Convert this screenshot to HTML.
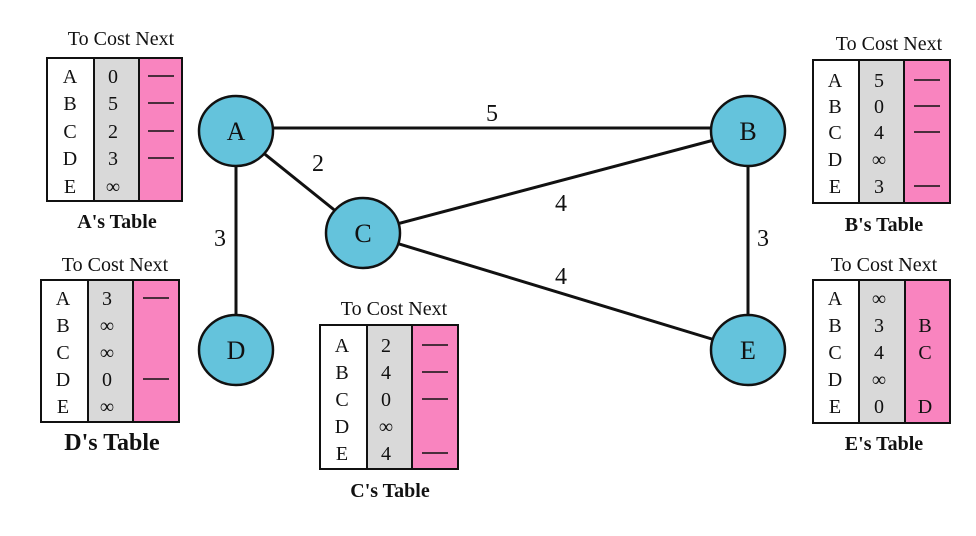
<!DOCTYPE html>
<html><head><meta charset="utf-8"><style>body{margin:0;background:#fff}svg{display:block}text{font-family:"Liberation Serif",serif;fill:#111}</style></head>
<body>
<svg width="976" height="536" viewBox="0 0 976 536" xmlns="http://www.w3.org/2000/svg">
<g stroke="#111" stroke-width="3">
<line x1="236" y1="128" x2="748" y2="128"/>
<line x1="236" y1="131" x2="363" y2="233"/>
<line x1="236" y1="131" x2="236" y2="350"/>
<line x1="363" y1="233" x2="748" y2="131"/>
<line x1="363" y1="233" x2="748" y2="350"/>
<line x1="748" y1="131" x2="748" y2="350"/>
</g>
<g fill="#64c3dc" stroke="#111" stroke-width="2.5">
<ellipse cx="236" cy="131" rx="37" ry="35"/>
<ellipse cx="748" cy="131" rx="37" ry="35"/>
<ellipse cx="363" cy="233" rx="37" ry="35"/>
<ellipse cx="236" cy="350" rx="37" ry="35"/>
<ellipse cx="748" cy="350" rx="37" ry="35"/>
</g>
<g font-size="26" text-anchor="middle">
<text x="236" y="140">A</text><text x="748" y="140">B</text><text x="363" y="242">C</text><text x="236" y="359">D</text><text x="748" y="359">E</text>
<text x="492" y="121" font-size="24">5</text><text x="318" y="171" font-size="24">2</text><text x="220" y="246" font-size="24">3</text>
<text x="561" y="211" font-size="24">4</text><text x="561" y="284" font-size="24">4</text><text x="763" y="246" font-size="24">3</text>
</g>
<g id="tables" font-size="20">
<!-- A -->
<rect x="47" y="58" width="47" height="143" fill="#fff" stroke="#111" stroke-width="2"/>
<rect x="94" y="58" width="45" height="143" fill="#d9d9d9" stroke="#111" stroke-width="2"/>
<rect x="139" y="58" width="43" height="143" fill="#f984bf" stroke="#111" stroke-width="2"/>
<g text-anchor="middle"><text x="70" y="83">A</text><text x="70" y="110">B</text><text x="70" y="138">C</text><text x="70" y="165">D</text><text x="70" y="193">E</text>
<text x="113" y="83">0</text><text x="113" y="110">5</text><text x="113" y="138">2</text><text x="113" y="165">3</text><text x="113" y="193">∞</text>
<text x="121" y="45">To  Cost Next</text><text x="117" y="228" font-weight="bold">A's Table</text></g>
<g stroke="#111" stroke-width="1.5"><line x1="148" y1="76" x2="174" y2="76"/><line x1="148" y1="103" x2="174" y2="103"/><line x1="148" y1="131" x2="174" y2="131"/><line x1="148" y1="158" x2="174" y2="158"/></g>
<!-- B -->
<rect x="813" y="60" width="46" height="143" fill="#fff" stroke="#111" stroke-width="2"/>
<rect x="859" y="60" width="45" height="143" fill="#d9d9d9" stroke="#111" stroke-width="2"/>
<rect x="904" y="60" width="46" height="143" fill="#f984bf" stroke="#111" stroke-width="2"/>
<g text-anchor="middle"><text x="835" y="87">A</text><text x="835" y="113">B</text><text x="835" y="139">C</text><text x="835" y="166">D</text><text x="835" y="193">E</text>
<text x="879" y="87">5</text><text x="879" y="113">0</text><text x="879" y="139">4</text><text x="879" y="166">∞</text><text x="879" y="193">3</text>
<text x="889" y="50">To  Cost Next</text><text x="884" y="231" font-weight="bold">B's Table</text></g>
<g stroke="#111" stroke-width="1.5"><line x1="914" y1="80" x2="940" y2="80"/><line x1="914" y1="106" x2="940" y2="106"/><line x1="914" y1="132" x2="940" y2="132"/><line x1="914" y1="186" x2="940" y2="186"/></g>
<!-- D -->
<rect x="41" y="280" width="47" height="142" fill="#fff" stroke="#111" stroke-width="2"/>
<rect x="88" y="280" width="45" height="142" fill="#d9d9d9" stroke="#111" stroke-width="2"/>
<rect x="133" y="280" width="46" height="142" fill="#f984bf" stroke="#111" stroke-width="2"/>
<g text-anchor="middle"><text x="63" y="305">A</text><text x="63" y="332">B</text><text x="63" y="359">C</text><text x="63" y="386">D</text><text x="63" y="413">E</text>
<text x="107" y="305">3</text><text x="107" y="332">∞</text><text x="107" y="359">∞</text><text x="107" y="386">0</text><text x="107" y="413">∞</text>
<text x="115" y="271">To  Cost Next</text><text x="112" y="450" font-weight="bold" font-size="24">D's Table</text></g>
<g stroke="#111" stroke-width="1.5"><line x1="143" y1="298" x2="169" y2="298"/><line x1="143" y1="379" x2="169" y2="379"/></g>
<!-- C -->
<rect x="320" y="325" width="47" height="144" fill="#fff" stroke="#111" stroke-width="2"/>
<rect x="367" y="325" width="45" height="144" fill="#d9d9d9" stroke="#111" stroke-width="2"/>
<rect x="412" y="325" width="46" height="144" fill="#f984bf" stroke="#111" stroke-width="2"/>
<g text-anchor="middle"><text x="342" y="352">A</text><text x="342" y="379">B</text><text x="342" y="406">C</text><text x="342" y="433">D</text><text x="342" y="460">E</text>
<text x="386" y="352">2</text><text x="386" y="379">4</text><text x="386" y="406">0</text><text x="386" y="433">∞</text><text x="386" y="460">4</text>
<text x="394" y="315">To  Cost Next</text><text x="390" y="497" font-weight="bold">C's Table</text></g>
<g stroke="#111" stroke-width="1.5"><line x1="422" y1="345" x2="448" y2="345"/><line x1="422" y1="372" x2="448" y2="372"/><line x1="422" y1="399" x2="448" y2="399"/><line x1="422" y1="453" x2="448" y2="453"/></g>
<!-- E -->
<rect x="813" y="280" width="46" height="143" fill="#fff" stroke="#111" stroke-width="2"/>
<rect x="859" y="280" width="46" height="143" fill="#d9d9d9" stroke="#111" stroke-width="2"/>
<rect x="905" y="280" width="45" height="143" fill="#f984bf" stroke="#111" stroke-width="2"/>
<g text-anchor="middle"><text x="835" y="305">A</text><text x="835" y="332">B</text><text x="835" y="359">C</text><text x="835" y="386">D</text><text x="835" y="413">E</text>
<text x="879" y="305">∞</text><text x="879" y="332">3</text><text x="879" y="359">4</text><text x="879" y="386">∞</text><text x="879" y="413">0</text>
<text x="925" y="332">B</text><text x="925" y="359">C</text><text x="925" y="413">D</text>
<text x="884" y="271">To  Cost Next</text><text x="884" y="450" font-weight="bold">E's Table</text></g>
</g>
</svg>
</body></html>
